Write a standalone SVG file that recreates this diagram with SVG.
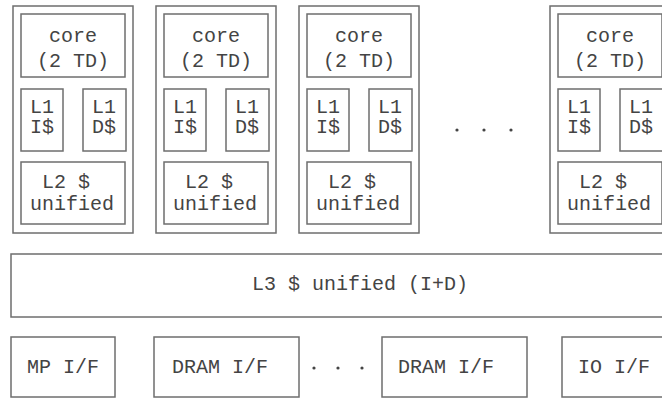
<svg xmlns="http://www.w3.org/2000/svg" width="662" height="398" viewBox="0 0 662 398">
<style>
rect{fill:#fff;stroke:#6e6e6e;stroke-width:1.5}
text{font-family:"Liberation Mono","Courier New",monospace;font-size:20px;fill:#444}
.c{text-anchor:middle}
.dot{fill:#444}
</style>
<rect x="0" y="0" width="662" height="398" style="stroke:none"/>
<defs>
<g id="col">
<rect x="0" y="0" width="120" height="227"/>
<rect x="8" y="8" width="104" height="63"/>
<text class="c" x="60" y="36">core</text>
<text class="c" x="60" y="61">(2 TD)</text>
<rect x="8" y="83" width="42" height="62"/>
<text class="c" x="29" y="107">L1</text>
<text class="c" x="29" y="127">I$</text>
<rect x="70" y="83" width="43" height="62"/>
<text class="c" x="91" y="107">L1</text>
<text class="c" x="91" y="127">D$</text>
<rect x="8" y="156" width="104" height="62"/>
<text x="29" y="182">L2 $</text>
<text class="c" x="59" y="204">unified</text>
</g>
</defs>
<g id="core1"><use href="#col" x="13" y="6"/></g>
<g id="core2"><use href="#col" x="156" y="6"/></g>
<g id="core3"><use href="#col" x="299" y="6"/></g>
<g id="core4"><use href="#col" x="550" y="6"/></g>
<g id="dots-top">
<circle class="dot" cx="457" cy="130" r="1.6"/>
<circle class="dot" cx="484" cy="130" r="1.6"/>
<circle class="dot" cx="511" cy="130" r="1.6"/>
</g>
<g id="l3"><rect x="11" y="254" width="660" height="63"/><text x="252" y="290">L3 $ unified (I+D)</text></g>
<g id="mp"><rect x="11" y="337" width="104" height="60"/><text x="27" y="373">MP I/F</text></g>
<g id="dram1"><rect x="154" y="337" width="145" height="60"/><text x="172" y="373">DRAM I/F</text></g>
<g id="dots-bottom">
<circle class="dot" cx="314" cy="368" r="1.6"/>
<circle class="dot" cx="338" cy="368" r="1.6"/>
<circle class="dot" cx="362" cy="368" r="1.6"/>
</g>
<g id="dram2"><rect x="382" y="337" width="145" height="60"/><text x="398" y="373">DRAM I/F</text></g>
<g id="io"><rect x="562" y="337" width="110" height="60"/><text x="578" y="373">IO I/F</text></g>
<g id="connectors"></g>
</svg>
